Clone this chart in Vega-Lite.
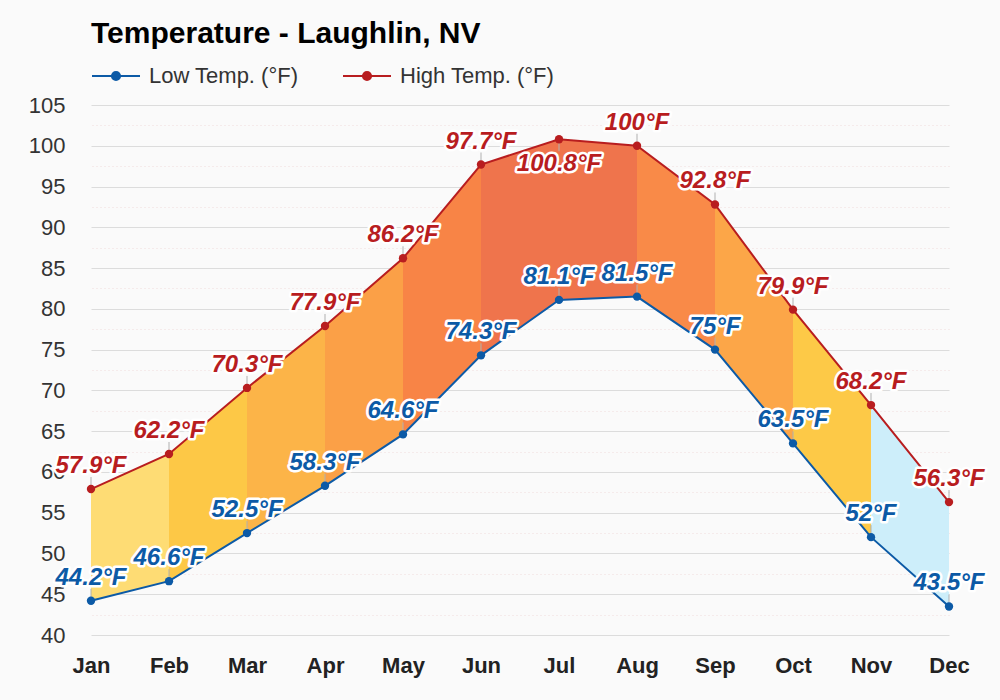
{
  "$schema": "https://vega.github.io/schema/vega-lite/v6.json",
  "width": 858,
  "height": 530,
  "autosize": {"type": "none"},
  "padding": {"left": 91, "top": 105, "right": 51, "bottom": 65},
  "background": "#fafafa",
  "title": {
    "text": "Temperature - Laughlin, NV",
    "anchor": "start",
    "frame": "group",
    "font": "Liberation Sans",
    "fontSize": 30,
    "fontWeight": "bold",
    "color": "#000000",
    "baseline": "alphabetic",
    "offset": -22
  },
  "config": {
    "view": {"stroke": null},
    "axis": {"labelFont": "Liberation Sans", "ticks": false, "domain": false, "title": null}
  },
  "datasets": {
    "temps": [
      {"month": "Jan", "low": 44.2, "high": 57.9},
      {"month": "Feb", "low": 46.6, "high": 62.2},
      {"month": "Mar", "low": 52.5, "high": 70.3},
      {"month": "Apr", "low": 58.3, "high": 77.9},
      {"month": "May", "low": 64.6, "high": 86.2},
      {"month": "Jun", "low": 74.3, "high": 97.7},
      {"month": "Jul", "low": 81.1, "high": 100.8},
      {"month": "Aug", "low": 81.5, "high": 100},
      {"month": "Sep", "low": 75, "high": 92.8},
      {"month": "Oct", "low": 63.5, "high": 79.9},
      {"month": "Nov", "low": 52, "high": 68.2},
      {"month": "Dec", "low": 43.5, "high": 56.3}
    ],
    "segments": [
      {"seg": "s1", "month": "Jan", "low": 44.2, "high": 57.9},
      {"seg": "s1", "month": "Feb", "low": 46.6, "high": 62.2},
      {"seg": "s2", "month": "Feb", "low": 46.6, "high": 62.2},
      {"seg": "s2", "month": "Mar", "low": 52.5, "high": 70.3},
      {"seg": "s3", "month": "Mar", "low": 52.5, "high": 70.3},
      {"seg": "s3", "month": "Apr", "low": 58.3, "high": 77.9},
      {"seg": "s4", "month": "Apr", "low": 58.3, "high": 77.9},
      {"seg": "s4", "month": "May", "low": 64.6, "high": 86.2},
      {"seg": "s5", "month": "May", "low": 64.6, "high": 86.2},
      {"seg": "s5", "month": "Jun", "low": 74.3, "high": 97.7},
      {"seg": "s6", "month": "Jun", "low": 74.3, "high": 97.7},
      {"seg": "s6", "month": "Jul", "low": 81.1, "high": 100.8},
      {"seg": "s7", "month": "Jul", "low": 81.1, "high": 100.8},
      {"seg": "s7", "month": "Aug", "low": 81.5, "high": 100},
      {"seg": "s8", "month": "Aug", "low": 81.5, "high": 100},
      {"seg": "s8", "month": "Sep", "low": 75, "high": 92.8},
      {"seg": "s9", "month": "Sep", "low": 75, "high": 92.8},
      {"seg": "s9", "month": "Oct", "low": 63.5, "high": 79.9},
      {"seg": "s10", "month": "Oct", "low": 63.5, "high": 79.9},
      {"seg": "s10", "month": "Nov", "low": 52, "high": 68.2},
      {"seg": "s11", "month": "Nov", "low": 52, "high": 68.2},
      {"seg": "s11", "month": "Dec", "low": 43.5, "high": 56.3}
    ]
  },
  "encoding": {
    "x": {
      "field": "month",
      "type": "ordinal",
      "sort": ["Jan", "Feb", "Mar", "Apr", "May", "Jun", "Jul", "Aug", "Sep", "Oct", "Nov", "Dec"],
      "scale": {"type": "point", "padding": 0},
      "axis": {
        "labelAngle": 0,
        "labelFontSize": 22,
        "labelFontWeight": "bold",
        "labelColor": "#222222",
        "labelPadding": 20,
        "grid": false
      }
    }
  },
  "layer": [
    {
      "data": {"name": "segments"},
      "mark": {"type": "area", "opacity": 1},
      "encoding": {
        "y": {"field": "low", "type": "quantitative", "scale": {"domain": [40, 105], "nice": false, "zero": false}, "axis": null},
        "y2": {"field": "high"},
        "detail": {"field": "seg"},
        "fill": {
          "field": "seg",
          "type": "nominal",
          "scale": {
            "domain": ["s1", "s2", "s3", "s4", "s5", "s6", "s7", "s8", "s9", "s10", "s11"],
            "range": ["#fedc74", "#fdc846", "#fcb448", "#fba047", "#f88446", "#ef744c", "#ef744c", "#f98a48", "#fca648", "#fdc947", "#cdeefa"]
          },
          "legend": null
        }
      }
    },
    {
      "data": {"name": "temps"},
      "transform": [
        {"fold": ["low", "high"], "as": ["series", "temp"]},
        {"calculate": "datum.temp + '°F'", "as": "label"}
      ],
      "encoding": {
        "y": {
          "field": "temp",
          "type": "quantitative",
          "scale": {"domain": [40, 105], "nice": false, "zero": false},
          "axis": {
            "orient": "left",
            "values": [40, 45, 50, 55, 60, 65, 70, 75, 80, 85, 90, 95, 100, 105],
            "grid": true,
            "gridColor": "#dcdcdc",
            "labelFontSize": 22,
            "labelColor": "#333333",
            "labelPadding": 26
          }
        }
      },
      "layer": [
        {
          "mark": {"type": "line", "strokeWidth": 2},
          "encoding": {
            "color": {
              "field": "series",
              "type": "nominal",
              "scale": {"domain": ["low", "high"], "range": ["#0c5aa6", "#b81d1f"]},
              "legend": {
                "orient": "none",
                "direction": "horizontal",
                "legendX": 0,
                "legendY": -54,
                "title": null,
                "symbolType": "M-1,0H1M-0.17,0A0.17,0.17,0,1,1,0.17,0A0.17,0.17,0,1,1,-0.17,0Z",
                "symbolSize": 2304,
                "symbolStrokeWidth": 2,
                "labelFont": "Liberation Sans",
                "labelFontSize": 22,
                "labelColor": "#333333",
                "labelOffset": 8,
                "columnPadding": 40,
                "labelExpr": "datum.label == 'low' ? 'Low Temp. (°F)' : 'High Temp. (°F)'",
                "encode": {
                  "symbols": {
                    "update": {
                      "fill": {"signal": "datum.value == 'low' ? '#0c5aa6' : '#b81d1f'"},
                      "stroke": {"signal": "datum.value == 'low' ? '#0c5aa6' : '#b81d1f'"},
                      "strokeWidth": {"value": 2},
                      "opacity": {"value": 1}
                    }
                  }
                }
              }
            }
          }
        },
        {
          "transform": [{"filter": "!(datum.series == 'high' && datum.month == 'Jul')"}],
          "mark": {"type": "point", "shape": "M0,0V-1", "size": 576, "filled": false, "color": "#b0b0b0", "strokeWidth": 1, "opacity": 1},
          "encoding": {}
        },
        {
          "transform": [{"filter": "datum.series == 'high' && datum.month == 'Jul'"}],
          "mark": {"type": "point", "shape": "M0,0V1", "size": 576, "filled": false, "color": "#b0b0b0", "strokeWidth": 1, "opacity": 1},
          "encoding": {}
        },
        {
          "mark": {"type": "point", "filled": true, "size": 70, "opacity": 1},
          "encoding": {
            "color": {"field": "series", "type": "nominal", "scale": {"domain": ["low", "high"], "range": ["#0c5aa6", "#b81d1f"]}}
          }
        },
        {
          "transform": [{"filter": "!(datum.series == 'high' && datum.month == 'Jul')"}],
          "mark": {"type": "text", "font": "Liberation Sans", "fontSize": 24, "fontStyle": "italic", "fontWeight": "bold", "baseline": "alphabetic", "align": "center", "dy": -16, "fill": "white", "stroke": "white", "strokeWidth": 5, "strokeJoin": "round"},
          "encoding": {"text": {"field": "label"}}
        },
        {
          "transform": [{"filter": "!(datum.series == 'high' && datum.month == 'Jul')"}],
          "mark": {"type": "text", "font": "Liberation Sans", "fontSize": 24, "fontStyle": "italic", "fontWeight": "bold", "baseline": "alphabetic", "align": "center", "dy": -16},
          "encoding": {
            "text": {"field": "label"},
            "color": {"field": "series", "type": "nominal", "scale": {"domain": ["low", "high"], "range": ["#0c5aa6", "#b81d1f"]}}
          }
        },
        {
          "transform": [{"filter": "datum.series == 'high' && datum.month == 'Jul'"}],
          "mark": {"type": "text", "font": "Liberation Sans", "fontSize": 24, "fontStyle": "italic", "fontWeight": "bold", "baseline": "alphabetic", "align": "center", "dy": 32, "fill": "white", "stroke": "white", "strokeWidth": 5, "strokeJoin": "round"},
          "encoding": {"text": {"field": "label"}}
        },
        {
          "transform": [{"filter": "datum.series == 'high' && datum.month == 'Jul'"}],
          "mark": {"type": "text", "font": "Liberation Sans", "fontSize": 24, "fontStyle": "italic", "fontWeight": "bold", "baseline": "alphabetic", "align": "center", "dy": 32},
          "encoding": {
            "text": {"field": "label"},
            "color": {"field": "series", "type": "nominal", "scale": {"domain": ["low", "high"], "range": ["#0c5aa6", "#b81d1f"]}}
          }
        }
      ]
    },
    {
      "data": {"name": "temps"},
      "mark": {"type": "point", "opacity": 0},
      "encoding": {
        "y": {
          "field": "low",
          "type": "quantitative",
          "scale": {"domain": [40, 105], "nice": false, "zero": false},
          "axis": {
            "orient": "right",
            "values": [42.5, 47.5, 52.5, 57.5, 62.5, 67.5, 72.5, 77.5, 82.5, 87.5, 92.5, 97.5, 102.5],
            "grid": true,
            "gridColor": "#f0dcdc",
            "gridDash": [1, 3],
            "labels": false
          }
        }
      }
    }
  ],
  "resolve": {"axis": {"y": "independent"}}
}
